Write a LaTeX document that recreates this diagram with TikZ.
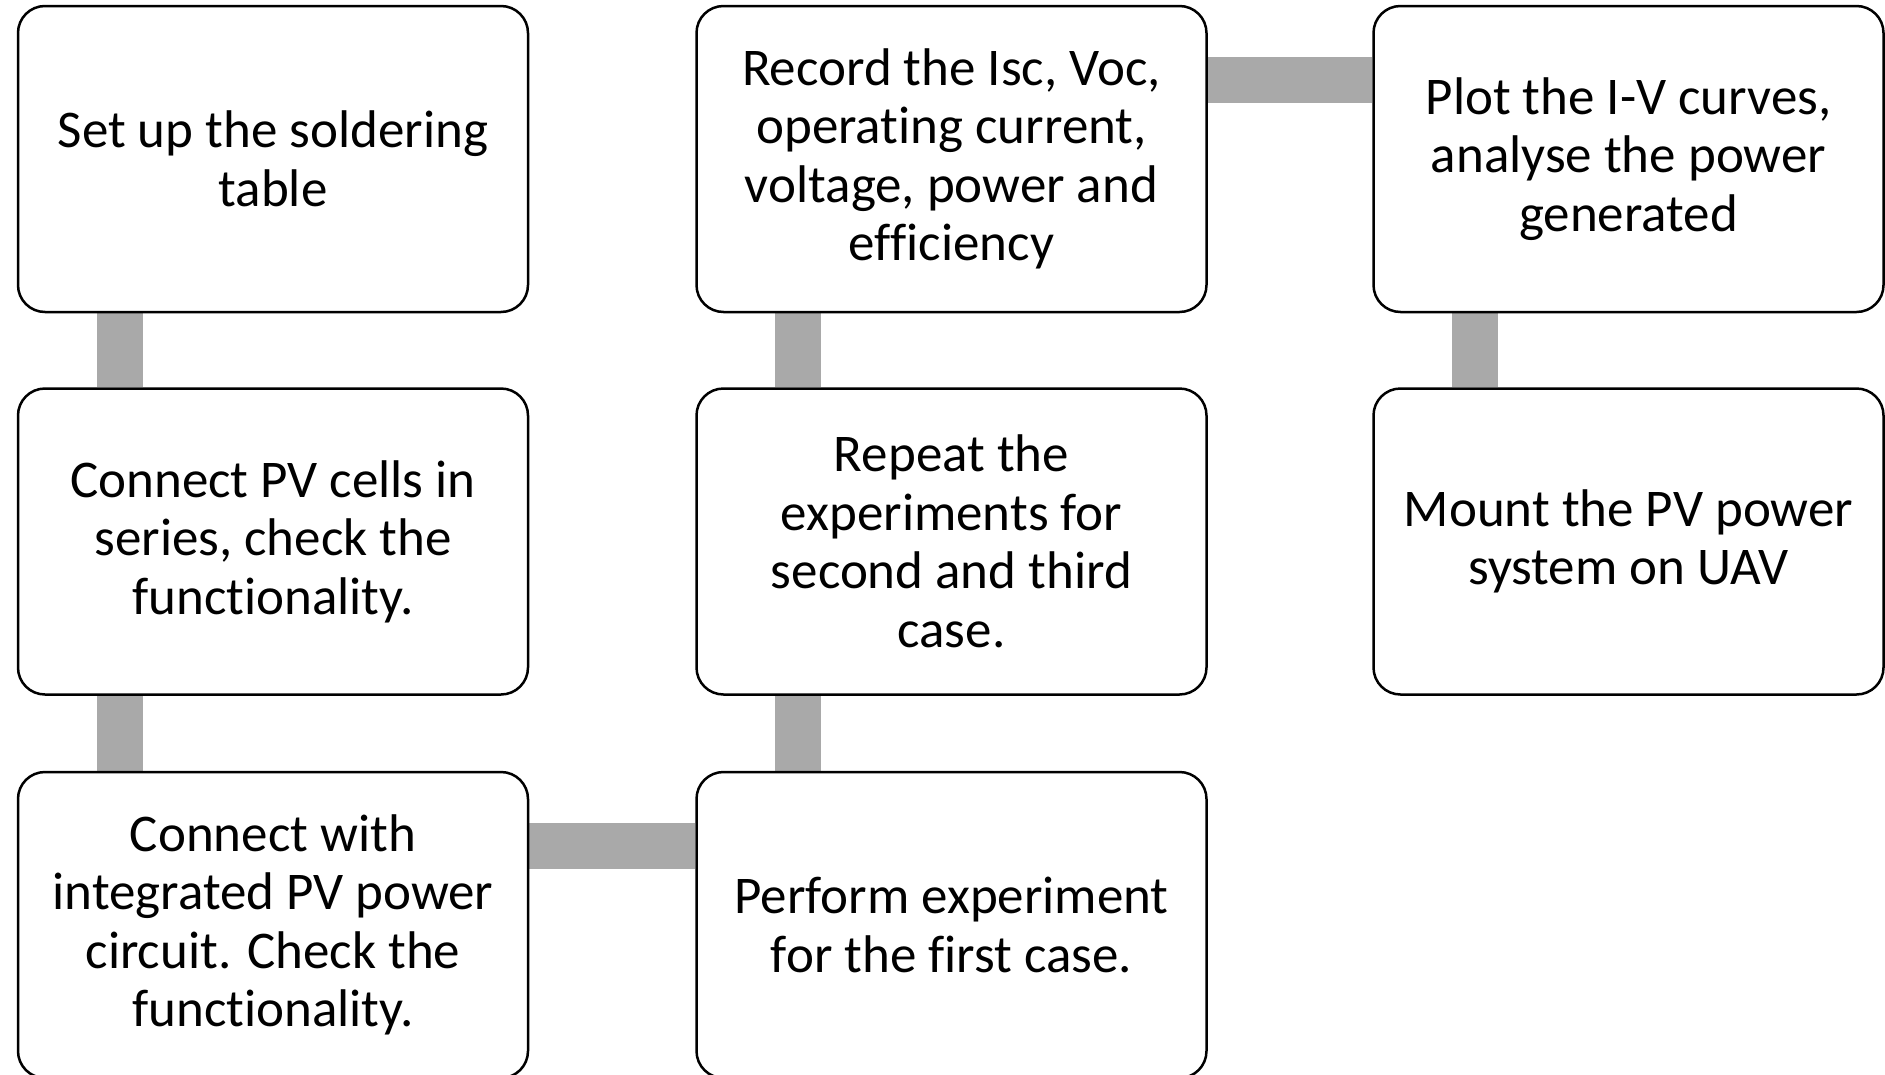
\documentclass[tikz,border=0pt]{standalone}
\usepackage{fontspec}
\setmainfont{Carlito}[Ligatures=CommonOff]
\usetikzlibrary{calc,backgrounds}
\definecolor{bargray}{RGB}{169,169,169}
\tikzset{
  stepbox/.style={draw=black, line width=2.5pt, fill=white, rounded corners=27pt,
    minimum width=510pt, minimum height=306pt, inner sep=0pt, align=center,
    font=\fontsize{53}{58.5}\selectfont},
  bar/.style={draw=bargray, line width=46pt, line cap=butt}
}
\begin{document}
\begin{tikzpicture}[x=1pt,y=-1pt]
\useasboundingbox (0,0) rectangle (1885,1074);
\node[stepbox] (a) at (273,159) {Set up the soldering\\table};
\node[stepbox] (b) at (273,541.5) {Connect PV cells in\\series, check the\\functionality.};
\node[stepbox] (c) at (273,925) {Connect with\\integrated PV power\\circuit. Check the\\functionality.};
\node[stepbox] (d) at (951.5,925) {Perform experiment\\for the first case.};
\node[stepbox] (e) at (951.5,541.5) {Repeat the\\experiments for\\second and third\\case.};
\node[stepbox] (f) at (951.5,159) {Record the Isc, Voc,\\operating current,\\voltage, power and\\efficiency};
\node[stepbox] (g) at (1628.5,159) {Plot the I-V curves,\\analyse the power\\generated};
\node[stepbox] (h) at (1628.5,541.5) {Mount the PV power\\system on UAV};
\begin{scope}[on background layer]
\draw[bar] ($(a.south west)+(103,0)$) -- ($(b.north west)+(103,0)$);
\draw[bar] ($(b.south west)+(103,0)$) -- ($(c.north west)+(103,0)$);
\draw[bar] ($(c.north east)+(0,75)$) -- ($(d.north west)+(0,75)$);
\draw[bar] ($(d.north west)+(103,0)$) -- ($(e.south west)+(103,0)$);
\draw[bar] ($(e.north west)+(103,0)$) -- ($(f.south west)+(103,0)$);
\draw[bar] ($(f.north east)+(0,75)$) -- ($(g.north west)+(0,75)$);
\draw[bar] ($(g.south west)+(103,0)$) -- ($(h.north west)+(103,0)$);
\end{scope}
\end{tikzpicture}
\end{document}
